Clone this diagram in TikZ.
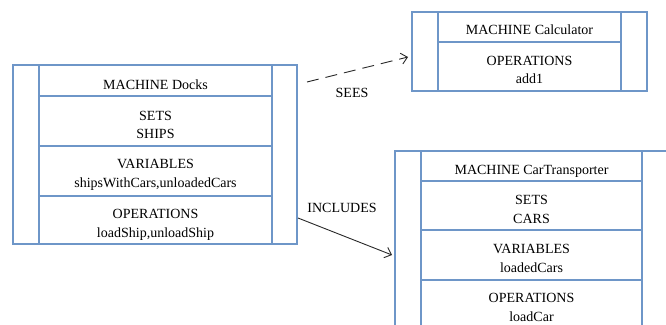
\documentclass[tikz,border=0pt]{standalone}
\usepackage{fontspec}
\setmainfont{Liberation Serif}
\usetikzlibrary{arrows.meta}
\definecolor{boxblue}{RGB}{110,150,200}
\definecolor{linegray}{RGB}{40,40,40}
\tikzset{
  machine/.style={draw=boxblue, line width=1.2pt, rectangle, inner sep=0pt, outer sep=0pt},
  divider/.style={draw=boxblue, line width=1.2pt},
  txt/.style={anchor=base, inner sep=0pt, font=\fontsize{14}{18}\selectfont},
  rel/.style={draw=linegray, line width=0.9pt, -{Straight Barb[length=6pt,width=11pt]}},
  seesline/.style={rel, dash pattern=on 12pt off 7pt},
}
\begin{document}
\begin{tikzpicture}[x=1pt,y=-1pt]
\useasboundingbox (0,0) rectangle (666,324);
\clip (0,0) rectangle (666,324);
% boxes
\node[machine, minimum width=284pt, minimum height=179pt] (docks) at (155,154.5) {};
\node[machine, minimum width=235pt, minimum height=79pt] (calc) at (529.5,51.5) {};
\node[machine, minimum width=273pt, minimum height=189pt] (car) at (531.5,245.5) {};
% Docks inner lines
\draw[divider] (39,65) -- (39,244) (272,65) -- (272,244);
\draw[divider] (39,96) -- (272,96) (39,146) -- (272,146) (39,196) -- (272,196);
% Calculator inner lines
\draw[divider] (438,12) -- (438,91) (621,12) -- (621,91);
\draw[divider] (438,42) -- (621,42);
% CarTransporter inner lines
\draw[divider] (421,151) -- (421,340) (642,151) -- (642,340);
\draw[divider] (421,181) -- (642,181) (421,230) -- (642,230) (421,280) -- (642,280);
% Docks texts
\node[txt] (d1) at (155.5,89.5) {MACHINE Docks};
\node[txt] (d2) at (155.5,120) {SETS};
\node[txt] (d3) at (155.5,138.5) {SHIPS};
\node[txt] (d4) at (155.5,168.5) {VARIABLES};
\node[txt] (d5) at (155.5,187.5) {shipsWithCars,unloadedCars};
\node[txt] (d6) at (155.5,218.5) {OPERATIONS};
\node[txt] (d7) at (155.5,237.5) {loadShip,unloadShip};
% Calculator texts
\node[txt] (c1) at (529.5,34.5) {MACHINE Calculator};
\node[txt] (c2) at (529.5,65) {OPERATIONS};
\node[txt] (c3) at (529.5,83.5) {add1};
% CarTransporter texts
\node[txt] (t1) at (531.5,174) {MACHINE CarTransporter};
\node[txt] (t2) at (531.5,204) {SETS};
\node[txt] (t3) at (531.5,223) {CARS};
\node[txt] (t4) at (531.5,253.5) {VARIABLES};
\node[txt] (t5) at (531.5,272) {loadedCars};
\node[txt] (t6) at (531.5,302.5) {OPERATIONS};
\node[txt] (t7) at (531.5,321.5) {loadCar};
% connectors
\draw[seesline] ([shift={(10,17)}]docks.north east) -- ([shift={(-4,-34)}]calc.south west);
\draw[rel] ([shift={(1,-26)}]docks.south east) -- ([shift={(-3,104)}]car.north west);
\node[txt] (sees) at (352,97.5) {SEES};
\node[txt] (incl) at (342,212.5) {INCLUDES};
\end{tikzpicture}
\end{document}
